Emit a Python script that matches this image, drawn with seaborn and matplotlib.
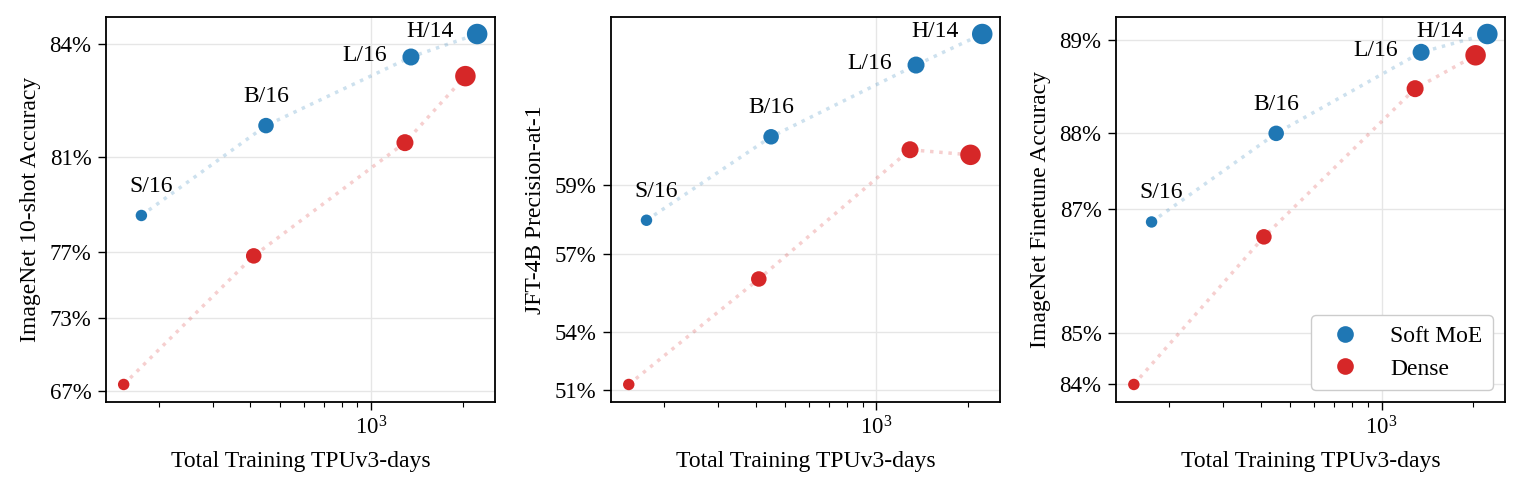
import numpy as np
import pandas as pd
import matplotlib
matplotlib.use("Agg")
from matplotlib import pyplot as plt
from matplotlib.ticker import PercentFormatter, NullFormatter
from matplotlib.lines import Line2D
import seaborn as sns

variants = ["S/16", "B/16", "L/16", "H/14"]
softmoe_cost = [175, 450, 1350, 2230]
dense_cost = [153, 410, 1290, 2040]

# accuracies (fractions)
in10_softmoe = [0.7875, 0.820, 0.8373, 0.842]
in10_dense = [0.676, 0.768, 0.8148, 0.833]
jft_softmoe = [0.5805, 0.6007, 0.6133, 0.6177]
jft_dense = [0.5134, 0.5615, 0.598, 0.5969]
inft_softmoe = [0.8682, 0.8799, 0.8888, 0.8906]
inft_dense = [0.8399, 0.866, 0.885, 0.8885]

in10_ticks = [0.67, 0.73, 0.77, 0.81, 0.84]
jft_ticks = [0.51, 0.54, 0.57, 0.59]
inft_ticks = [0.84, 0.85, 0.87, 0.88, 0.89]

panels = [
    ("ImageNet 10-shot Accuracy", in10_softmoe, in10_dense, in10_ticks, 0.885),
    ("JFT-4B Precision-at-1", jft_softmoe, jft_dense, jft_ticks, 0.65),
    ("ImageNet Finetune Accuracy", inft_softmoe, inft_dense, inft_ticks, 0.935),
]

palette = {"Soft MoE": "#1f77b4", "Dense": "#d62728"}
marker_sizes = {"S/16": 68, "B/16": 125, "L/16": 150, "H/14": 218}
label_offsets = {"S/16": (7, 21, "center"), "B/16": (0, 21, "center"),
                 "L/16": (-17, 1, "right"), "H/14": (-17, 2, "right")}

sns.set_theme(style="ticks")
plt.rcParams["font.family"] = ["Liberation Serif", "DejaVu Serif"]
plt.rcParams["mathtext.fontset"] = "stix"
plt.rcParams["text.color"] = "black"
plt.rcParams["axes.labelcolor"] = "black"
plt.rcParams["xtick.color"] = "black"
plt.rcParams["ytick.color"] = "black"


def make_scale(c):
    def fwd(a):
        return -np.log(np.maximum(c - np.asarray(a, dtype=float), 1e-9))

    def inv(t):
        return c - np.exp(-np.asarray(t, dtype=float))
    return fwd, inv


fig, axes = plt.subplots(1, 3, figsize=(15.22, 4.91), dpi=100)
fig.subplots_adjust(left=106 / 1522, right=1505 / 1522, top=1 - 16.5 / 491,
                    bottom=1 - 402 / 491, wspace=0.299)

for ax, (ylabel, soft, dense, ticks, c) in zip(axes, panels):
    df = pd.DataFrame({
        "cost": softmoe_cost + dense_cost,
        "acc": soft + dense,
        "model": ["Soft MoE"] * 4 + ["Dense"] * 4,
        "variant": variants * 2,
    })
    ax.set_xscale("log")
    ax.set_yscale("function", functions=make_scale(c))
    sns.lineplot(data=df, x="cost", y="acc", hue="model", palette=palette,
                 linestyle=":", linewidth=2.5, alpha=0.22, legend=False,
                 estimator=None, sort=True, ax=ax)
    sns.scatterplot(data=df, x="cost", y="acc", hue="model", palette=palette,
                    size="variant", sizes=marker_sizes, legend=False,
                    linewidth=0, alpha=1, zorder=3, ax=ax)
    for v, x, y in zip(variants, softmoe_cost, soft):
        dx, dy, ha = label_offsets[v]
        ax.annotate(v, (x, y), xytext=(dx, dy), textcoords="offset points",
                    ha=ha, va="center", fontsize=17)
    ax.set_yticks(ticks)
    ax.yaxis.set_major_formatter(PercentFormatter(xmax=1, decimals=0))
    ax.yaxis.set_minor_formatter(NullFormatter())
    ax.xaxis.set_minor_formatter(NullFormatter())
    ax.grid(True, which="major", color="#e6e6e6", linewidth=1.0)
    ax.set_axisbelow(True)
    ax.set_xlabel("Total Training TPUv3-days", fontsize=17, labelpad=8)
    ax.set_ylabel(ylabel, fontsize=17, labelpad=6)
    ax.tick_params(axis="both", labelsize=16.5, length=5.5, width=1.0, pad=5)
    ax.tick_params(axis="x", which="major", pad=5)
    ax.tick_params(axis="x", which="minor", length=3.5, width=0.8)
    for s in ax.spines.values():
        s.set_color("black")
        s.set_linewidth(1.3)

handles = [Line2D([], [], marker="o", linestyle="", markersize=12,
                  markerfacecolor=col, markeredgewidth=0, label=lab)
           for lab, col in palette.items()]
axes[2].legend(handles=handles, loc="lower right", fontsize=17,
               handletextpad=0.9, borderpad=0.45, labelspacing=0.45,
               borderaxespad=0.5, frameon=True, edgecolor="#cccccc",
               framealpha=1)

plt.savefig("out.png", dpi=100)
